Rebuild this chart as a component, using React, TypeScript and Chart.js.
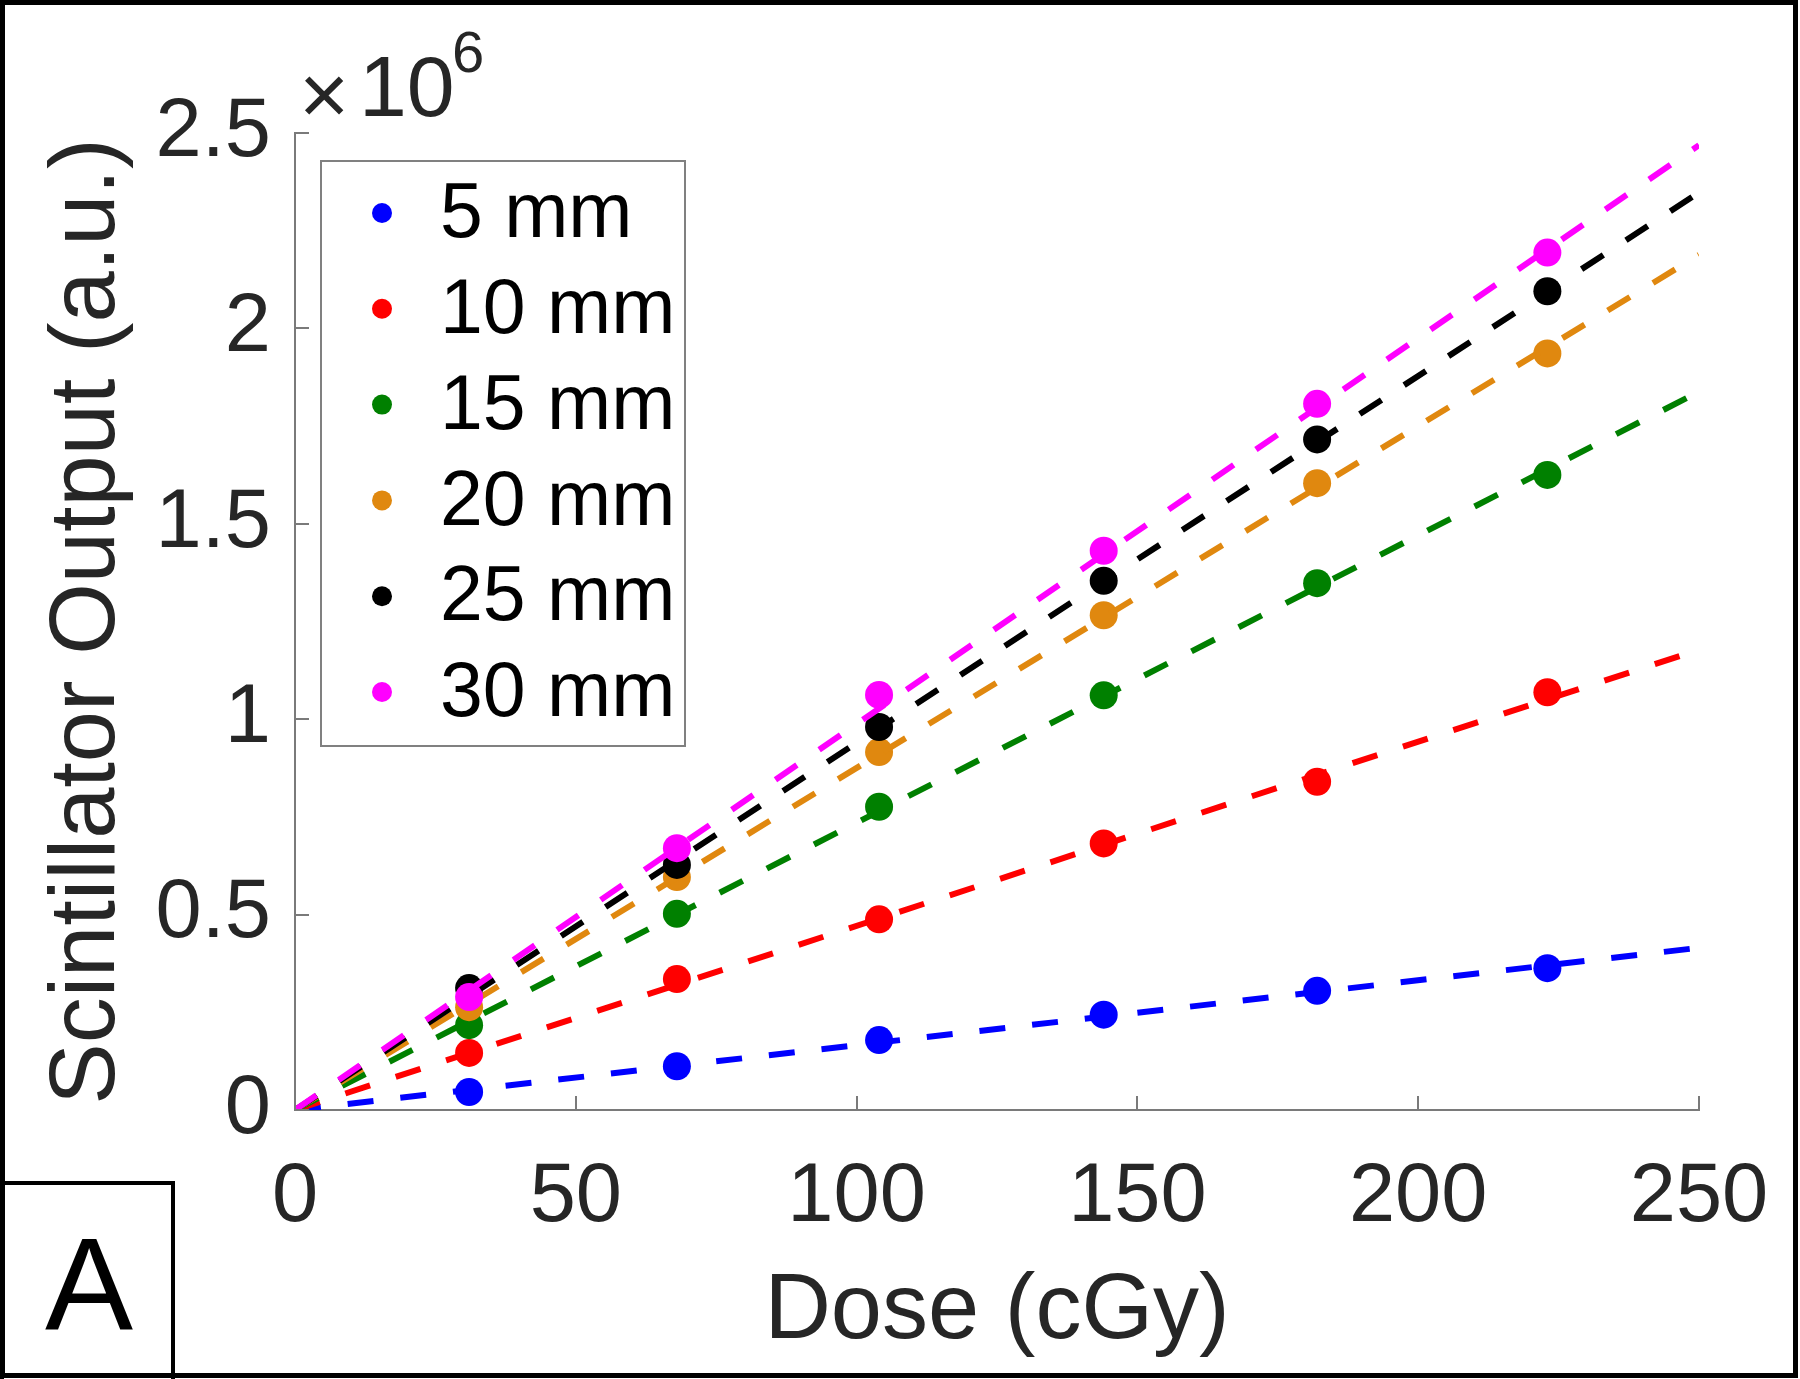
import React, { useEffect, useRef } from "react";
import { Chart, registerables } from "chart.js";

Chart.register(...registerables);

// ---- data (Scintillator output in a.u.) ----
const doses = [31, 68, 104, 144, 182, 223];
const seriesLabels = ["5 mm", "10 mm", "15 mm", "20 mm", "25 mm", "30 mm"];
const seriesColors = ["#0000FF", "#FF0000", "#008000", "#E0880F", "#000000", "#FF00FF"];
const output5mm = [46000, 112000, 179000, 244000, 305000, 363000];
const output10mm = [146000, 335000, 488000, 682000, 840000, 1069000];
const output15mm = [217000, 502000, 776000, 1061000, 1348000, 1625000];
const output20mm = [263000, 596000, 916000, 1266000, 1604000, 1936000];
const output25mm = [312000, 627000, 980000, 1354000, 1716000, 2095000];
const output30mm = [289000, 670000, 1062000, 1431000, 1807000, 2194000];
const fitDose = [0, 250];
const fit5mm = [0, 415000];
const fit10mm = [0, 1178000];
const fit15mm = [0, 1838000];
const fit20mm = [0, 2188000];
const fit25mm = [0, 2348000];
const fit30mm = [0, 2469000];
const xTickValues = [0, 50, 100, 150, 200, 250];
const yTickValues = [0, 500000, 1000000, 1500000, 2000000, 2500000];
const yScaleFactor = 1e6;
const yExponentSign = "\u00d7";
const yExponentBase = "10";
const yExponent = "6";
const xTitle = "Dose (cGy)";
const yTitle = "Scintillator Output (a.u.)";
const panelLabel = "A";

const outputs = [output5mm, output10mm, output15mm, output20mm, output25mm, output30mm];
const fits = [fit5mm, fit10mm, fit15mm, fit20mm, fit25mm, fit30mm];

const FONT = "'Liberation Sans', Arial, sans-serif";
const AXIS_GRAY = "#7a7a7a";
const TEXT = "#262626";

const decorations = {
  id: "decorations",
  beforeDraw(chart: any) {
    const ctx = chart.ctx;
    ctx.save();
    ctx.fillStyle = "#ffffff";
    ctx.fillRect(0, 0, chart.width, chart.height);
    ctx.restore();
  },
  afterDraw(chart: any) {
    const ctx = chart.ctx;
    const xs = chart.scales.x;
    const ys = chart.scales.y;
    const area = chart.chartArea;
    ctx.save();
    // inward ticks
    ctx.strokeStyle = AXIS_GRAY;
    ctx.lineWidth = 2;
    const tl = 14;
    xTickValues.forEach((v) => {
      const px = Math.round(xs.getPixelForValue(v));
      ctx.beginPath();
      ctx.moveTo(px, area.bottom);
      ctx.lineTo(px, area.bottom - tl);
      ctx.stroke();
    });
    yTickValues.forEach((v) => {
      const py = Math.round(ys.getPixelForValue(v));
      ctx.beginPath();
      ctx.moveTo(area.left, py);
      ctx.lineTo(area.left + tl, py);
      ctx.stroke();
    });

    // exponent label
    ctx.fillStyle = TEXT;
    ctx.textBaseline = "alphabetic";
    ctx.textAlign = "left";
    ctx.font = `86px ${FONT}`;
    ctx.fillText(yExponentSign, area.left + 4, 124);
    ctx.fillText(yExponentBase, area.left + 64, 116);
    ctx.font = `58px ${FONT}`;
    ctx.fillText(yExponent, area.left + 157, 72);

    // legend
    const lx = 321, ly = 161, lw = 364, lh = 585;
    ctx.fillStyle = "#ffffff";
    ctx.fillRect(lx, ly, lw, lh);
    ctx.strokeStyle = "#808080";
    ctx.lineWidth = 2;
    ctx.strokeRect(lx, ly, lw, lh);
    const pointSets = chart.data.datasets.filter((d: any) => d.type === "scatter");
    pointSets.forEach((d: any, i: number) => {
      const cy = 213 + i * 95.8;
      ctx.fillStyle = d.backgroundColor;
      ctx.beginPath();
      ctx.arc(382, cy, 10, 0, Math.PI * 2);
      ctx.fill();
      ctx.fillStyle = "#000000";
      ctx.font = `77px ${FONT}`;
      ctx.textBaseline = "middle";
      ctx.textAlign = "left";
      ctx.fillText(d.label, 440, cy + 3);
    });

    // panel label box
    ctx.strokeStyle = "#000000";
    ctx.lineWidth = 4;
    ctx.strokeRect(2, 1183, 171, 200);
    ctx.fillStyle = "#000000";
    ctx.font = `132px ${FONT}`;
    ctx.textAlign = "center";
    ctx.textBaseline = "alphabetic";
    ctx.fillText(panelLabel, 89, 1330);

    // outer frame
    ctx.lineWidth = 5;
    ctx.strokeRect(2.5, 2.5, chart.width - 7, chart.height - 6);
    ctx.restore();
  },
};

export default function App() {
  const canvasRef = useRef<HTMLCanvasElement | null>(null);

  useEffect(() => {
    const canvas = canvasRef.current;
    if (!canvas) return;
    const datasets: any[] = [];
    seriesLabels.forEach((label, i) => {
      datasets.push({
        type: "line",
        label: label + " fit",
        data: fitDose.map((x, k) => ({ x, y: fits[i][k] })),
        borderColor: seriesColors[i],
        backgroundColor: seriesColors[i],
        borderWidth: 6,
        borderDash: [26, 27],
        pointRadius: 0,
        fill: false,
        tension: 0,
        order: (5 - i) * 2,
      });
      datasets.push({
        type: "scatter",
        label,
        data: doses.map((x, k) => ({ x, y: outputs[i][k] })),
        backgroundColor: seriesColors[i],
        borderColor: seriesColors[i],
        borderWidth: 0,
        pointRadius: 14,
        pointHoverRadius: 14,
        showLine: false,
        order: (5 - i) * 2 + 1,
      });
    });

    const chart = new Chart(canvas, {
      type: "scatter",
      data: { datasets },
      plugins: [decorations],
      options: {
        animation: false,
        responsive: false,
        devicePixelRatio: 1,
        layout: { padding: { top: 133, right: 101, bottom: 0, left: 0 } },
        plugins: {
          legend: { display: false },
          tooltip: { enabled: false },
        },
        scales: {
          x: {
            type: "linear",
            min: 0,
            max: 250,
            grid: { display: false, drawTicks: false, tickLength: 0 },
            border: { display: true, color: AXIS_GRAY, width: 2 },
            afterBuildTicks: (scale: any) => {
              scale.ticks = xTickValues.map((v) => ({ value: v }));
            },
            ticks: {
              color: TEXT,
              font: { family: FONT, size: 83, lineHeight: 1.2 },
              padding: 38,
              maxRotation: 0,
              autoSkip: false,
            },
            title: {
              display: true,
              text: xTitle,
              color: TEXT,
              font: { family: FONT, size: 92, lineHeight: 1.2 },
              padding: { top: 0, bottom: 11 },
            },
            afterFit: (scale: any) => {
              scale.height = 269;
              scale.paddingLeft = 0;
              scale.paddingRight = 0;
            },
          },
          y: {
            type: "linear",
            min: 0,
            max: 2500000,
            grid: { display: false, drawTicks: false, tickLength: 0 },
            border: { display: true, color: AXIS_GRAY, width: 2 },
            afterBuildTicks: (scale: any) => {
              scale.ticks = yTickValues.map((v) => ({ value: v }));
            },
            ticks: {
              color: TEXT,
              font: { family: FONT, size: 83, lineHeight: 1.2 },
              padding: 24,
              autoSkip: false,
              callback: (v: any) => String(Number(v) / yScaleFactor),
            },
            title: {
              display: true,
              text: yTitle,
              color: TEXT,
              font: { family: FONT, size: 92, lineHeight: 1.2 },
              padding: { top: 33, bottom: 0 },
            },
            afterFit: (scale: any) => {
              scale.width = 295;
              scale.paddingTop = 0;
              scale.paddingBottom = 0;
            },
          },
        },
      } as any,
    });
    return () => chart.destroy();
  }, []);

  return (
    <div style={{ position: "absolute", left: 0, top: 0, width: 1800, height: 1379 }}>
      <canvas ref={canvasRef} width={1800} height={1379} style={{ display: "block", width: 1800, height: 1379 }} />
    </div>
  );
}
